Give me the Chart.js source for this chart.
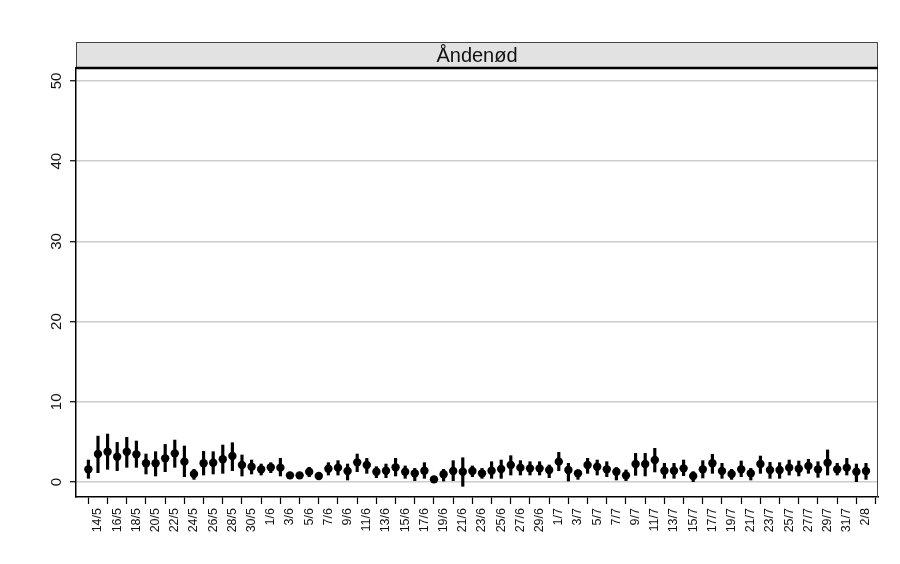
<!DOCTYPE html>
<html>
<head>
<meta charset="utf-8">
<script src="https://cdn.jsdelivr.net/npm/chart.js@4/dist/chart.umd.min.js"></script>
<style>
  html, body { margin: 0; padding: 0; background: #fff; }
</style>
</head>
<body>
<canvas id="chart" width="900" height="564"></canvas>
<script>
  // dagsdatoer 13/5 - 2/8
  const dates = [
    '13/5','14/5','15/5','16/5','17/5','18/5','19/5','20/5','21/5','22/5','23/5','24/5','25/5','26/5','27/5','28/5','29/5','30/5','31/5',
    '1/6','2/6','3/6','4/6','5/6','6/6','7/6','8/6','9/6','10/6','11/6','12/6','13/6','14/6','15/6','16/6','17/6','18/6','19/6','20/6',
    '21/6','22/6','23/6','24/6','25/6','26/6','27/6','28/6','29/6','30/6',
    '1/7','2/7','3/7','4/7','5/7','6/7','7/7','8/7','9/7','10/7','11/7','12/7','13/7','14/7','15/7','16/7','17/7','18/7','19/7','20/7',
    '21/7','22/7','23/7','24/7','25/7','26/7','27/7','28/7','29/7','30/7','31/7',
    '1/8','2/8'
  ];

  // procent med åndenød
  const estimate = [
    1.58, 3.49, 3.78, 3.16, 3.78, 3.45, 2.33, 2.33, 2.95, 3.57, 2.54, 1.0, 2.33, 2.4, 2.83, 3.24, 2.12, 1.91, 1.58, 1.83,
    1.79, 0.83, 0.83, 1.29, 0.75, 1.66, 1.79, 1.37, 2.45, 2.12, 1.29, 1.41, 1.83, 1.29, 1.08, 1.41, 0.33, 0.96, 1.37, 1.29,
    1.37, 1.08, 1.41, 1.62, 2.12, 1.79, 1.7, 1.7, 1.5, 2.54, 1.5, 1.08, 2.12, 1.91, 1.58, 1.29, 0.83, 2.25, 2.25, 2.74,
    1.41, 1.41, 1.7, 0.75, 1.58, 2.33, 1.37, 1.0, 1.58, 1.08, 2.25, 1.5, 1.5, 1.79, 1.66, 2.0, 1.58, 2.4, 1.58, 1.79,
    1.29, 1.37
  ];
  const lower = [
    0.46, 1.16, 1.58, 1.41, 1.83, 1.83, 1.0, 0.75, 1.29, 1.83, 0.66, 0.33, 0.87, 1.0, 1.08, 1.41, 0.75, 1.0, 0.87, 1.16,
    0.75, 0.55, 0.55, 0.66, 0.5, 0.87, 0.87, 0.25, 1.29, 1.08, 0.54, 0.54, 0.75, 0.46, 0.17, 0.46, 0.1, 0.12, 0.17, -0.54,
    0.66, 0.46, 0.46, 0.46, 0.87, 0.87, 0.87, 0.87, 0.54, 1.41, 0.12, 0.33, 1.08, 0.87, 0.66, 0.25, 0.17, 0.83, 0.75, 1.25,
    0.46, 0.46, 0.79, 0.04, 0.5, 1.08, 0.46, 0.33, 0.66, 0.25, 1.08, 0.46, 0.46, 0.87, 0.75, 1.08, 0.58, 0.87, 0.87, 0.87,
    0.04, 0.33
  ];
  const upper = [
    2.74, 5.72, 5.98, 4.94, 5.57, 5.11, 3.49, 3.78, 4.69, 5.23, 4.49, 1.58, 3.82, 3.78, 4.61, 4.9, 3.37, 2.74, 2.24, 2.41,
    2.95, 1.1, 1.1, 1.83, 1.0, 2.41, 2.66, 2.24, 3.49, 2.95, 1.91, 2.24, 2.95, 2.0, 1.7, 2.41, 0.6, 1.58, 2.66, 3.03,
    2.0, 1.7, 2.53, 2.74, 3.28, 2.66, 2.53, 2.53, 2.12, 3.7, 2.33, 1.5, 2.95, 2.74, 2.53, 1.79, 1.5, 3.57, 3.57, 4.2,
    2.33, 2.33, 2.74, 1.29, 2.66, 3.45, 2.33, 1.58, 2.62, 1.7, 3.24, 2.45, 2.41, 2.74, 2.62, 2.83, 2.53, 4.0, 2.33, 2.95,
    2.24, 2.33
  ];

  const yTicks = [0, 10, 20, 30, 40, 50];
  const panelTitle = 'Åndenød';

  const FONT = "'Liberation Sans', Arial, sans-serif";

  // label hver anden dag fra 14/5
  const xTickIdx = [];
  for (let i = 1; i < dates.length; i += 2) xTickIdx.push(i);

  // strip med titel + ramme + roterede y-labels
  const stripPlugin = {
    id: 'strip',
    afterDraw(chart) {
      const ctx = chart.ctx;
      const a = chart.chartArea;
      ctx.save();
      ctx.fillStyle = '#e2e2e2';
      ctx.fillRect(a.left, 42, a.right - a.left, a.top - 42);
      ctx.strokeStyle = '#444';
      ctx.lineWidth = 1;
      ctx.strokeRect(a.left + 0.5, 42.5, a.right - a.left - 1, a.top - 42);
      ctx.beginPath();
      ctx.moveTo(a.right - 0.5, a.top);
      ctx.lineTo(a.right - 0.5, a.bottom);
      ctx.stroke();
      ctx.strokeStyle = '#000';
      ctx.lineWidth = 2.5;
      ctx.beginPath();
      ctx.moveTo(a.left, a.top);
      ctx.lineTo(a.right, a.top);
      ctx.stroke();

      ctx.fillStyle = '#111';
      ctx.font = '20px ' + FONT;
      ctx.textAlign = 'center';
      ctx.textBaseline = 'middle';
      ctx.fillText(panelTitle, (a.left + a.right) / 2, (42 + a.top) / 2 + 1);

      const yScale = chart.scales.y;
      ctx.font = '15px ' + FONT;
      yTicks.forEach(v => {
        const py = yScale.getPixelForValue(v);
        ctx.save();
        ctx.translate(57, py);
        ctx.rotate(-Math.PI / 2);
        ctx.fillText(String(v), 0, 0);
        ctx.restore();
      });
      ctx.restore();
    }
  };

  new Chart(document.getElementById('chart'), {
    type: 'scatter',
    data: {
      datasets: [
        {
          type: 'bar',
          data: dates.map((d, i) => ({ x: i, y: [lower[i], upper[i]] })),
          backgroundColor: '#000',
          borderWidth: 0,
          barThickness: 2.5,
          order: 2
        },
        {
          type: 'scatter',
          data: dates.map((d, i) => ({ x: i, y: estimate[i] })),
          backgroundColor: '#000',
          borderWidth: 0,
          pointRadius: 4.2,
          order: 1
        }
      ]
    },
    options: {
      responsive: false,
      animation: false,
      devicePixelRatio: 1,
      layout: { padding: { top: 68, right: 22, left: 0, bottom: 0 } },
      plugins: { legend: { display: false }, tooltip: { enabled: false } },
      scales: {
        x: {
          type: 'linear',
          offset: false,
          min: -1.29,
          max: 82.25,
          afterBuildTicks: s => { s.ticks = xTickIdx.map(v => ({ value: v })); },
          afterFit: s => { s.height = 67; },
          grid: { display: true, drawOnChartArea: false, tickLength: 7, tickColor: '#000', tickWidth: 1.2 },
          border: { color: '#000', width: 1.5 },
          ticks: {
            autoSkip: false,
            minRotation: 90,
            maxRotation: 90,
            padding: 4,
            color: '#111',
            font: { family: FONT, size: 12.5 },
            callback: v => dates[v]
          }
        },
        y: {
          min: -1.87,
          max: 51.62,
          afterBuildTicks: s => { s.ticks = yTicks.map(v => ({ value: v })); },
          afterFit: s => { s.width = 76; },
          grid: { color: '#cccccc', lineWidth: 1.5, tickLength: 6, tickColor: '#000', tickWidth: 1.2 },
          border: { color: '#000', width: 1.5 },
          ticks: { display: false }
        }
      }
    },
    plugins: [stripPlugin]
  });
</script>
</body>
</html>
